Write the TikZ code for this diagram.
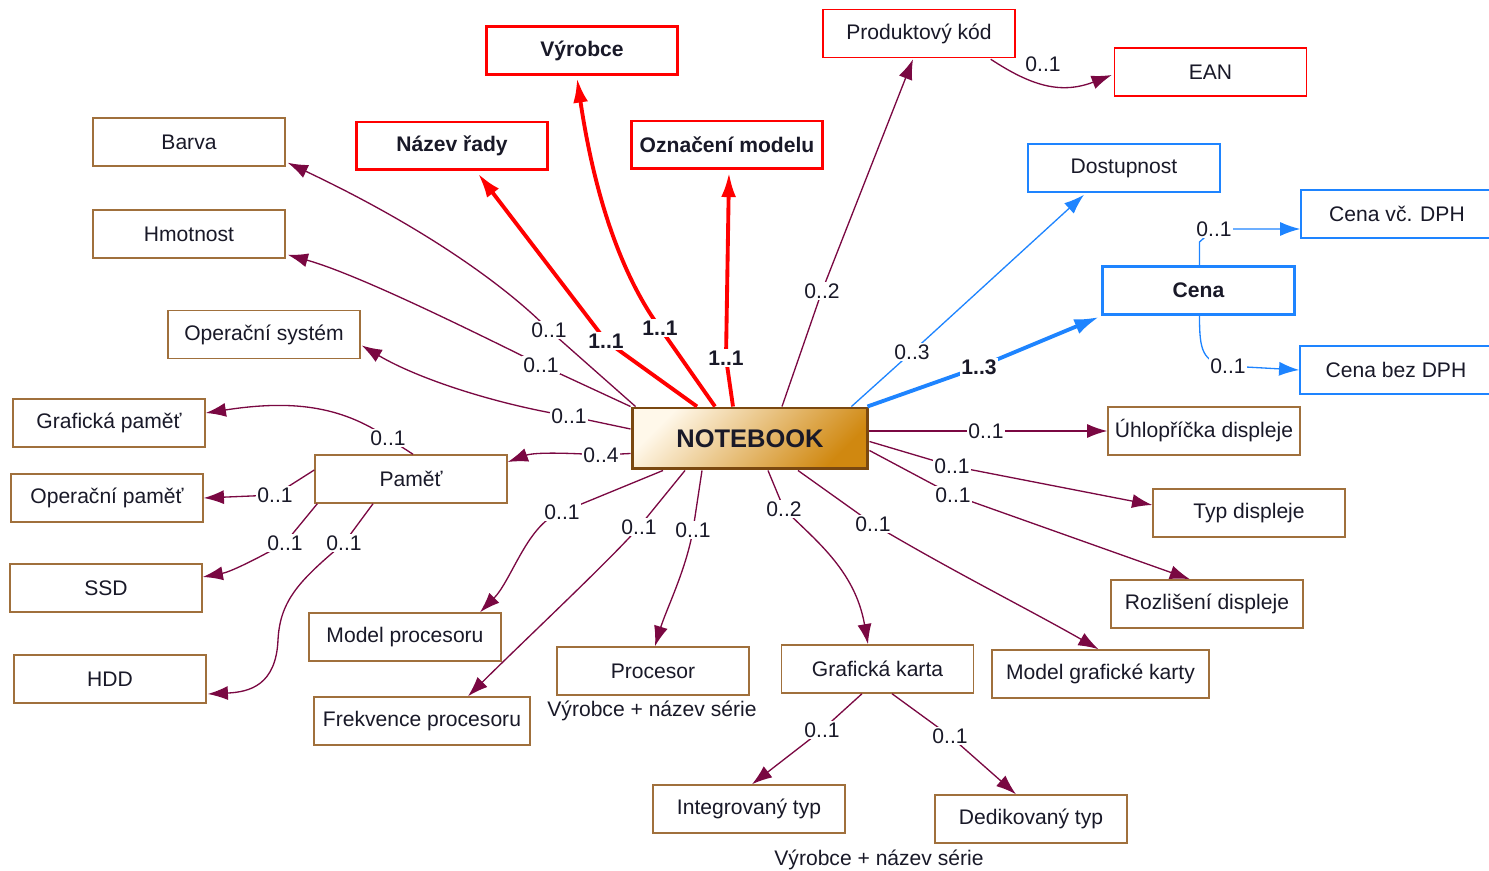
\documentclass[tikz,border=0pt]{standalone}
\usepackage{fontspec}
\setmainfont{Liberation Sans}
\usetikzlibrary{arrows.meta,calc}
\definecolor{brn}{RGB}{160,112,60}
\definecolor{mar}{RGB}{122,8,66}
\definecolor{blu}{RGB}{30,132,255}
\definecolor{rd}{RGB}{255,0,0}
\definecolor{txt}{RGB}{25,25,40}
\definecolor{nbl}{RGB}{255,248,234}
\definecolor{nbd}{RGB}{208,136,16}
\definecolor{nbb}{RGB}{122,72,16}
\tikzset{
  base/.style={fill=white, minimum width=3.84cm, minimum height=0.96cm, inner sep=0pt, text=txt, font=\fontsize{12}{14}\selectfont},
  bbox/.style={base, draw=brn, line width=0.85pt},
  rbox/.style={base, draw=rd, line width=1.7pt, font=\fontsize{12}{14}\selectfont\bfseries},
  rtbox/.style={base, draw=rd, line width=0.85pt},
  blbox/.style={base, draw=blu, line width=1.7pt, font=\fontsize{12}{14}\selectfont\bfseries},
  bltbox/.style={base, draw=blu, line width=0.85pt},
  nbbox/.style={draw=nbb, line width=1.7pt, minimum width=4.72cm, minimum height=1.22cm, inner sep=0pt,
    top color=nbl, bottom color=nbd, shading angle=45, text=txt, font=\fontsize{14.5}{17}\selectfont\bfseries},
  mult/.style={fill=white, inner sep=1pt, text=txt, font=\fontsize{12}{14}\selectfont},
  multb/.style={mult, font=\fontsize{12}{14}\selectfont\bfseries},
  txtn/.style={inner sep=0pt, text=txt, font=\fontsize{12}{14}\selectfont},
  edge/.style={draw=mar, line width=0.75pt, -{Latex[length=11.5pt,width=8pt]}},
  redge/.style={draw=rd, line width=2.2pt, -{Latex[length=14pt,width=8.5pt]}},
  bedge/.style={draw=blu, line width=0.75pt, -{Latex[length=11.5pt,width=8pt]}},
  bbedge/.style={draw=blu, line width=2.2pt, -{Latex[length=14pt,width=9pt]}}
}
\begin{document}
\begin{tikzpicture}[x=0.02cm, y=-0.02cm]
\useasboundingbox (0,0) rectangle (1489,871);
% boxes
\node[rbox] (vyr) at (582,50.5) {Výrobce};
\node[rbox] (naz) at (452,146) {Název řady};
\node[rbox] (ozn) at (727,145) {Označení modelu};
\node[rtbox] (pk) at (919,33.5) {Produktový kód};
\node[rtbox] (ean) at (1210.5,72) {EAN};
\node[bbox] (barva) at (189,142) {Barva};
\node[bbox] (hmot) at (189,234) {Hmotnost};
\node[bbox] (opsys) at (264,334.5) {Operační systém};
\node[bbox] (gpam) at (109,423) {Grafická paměť};
\node[bbox] (opam) at (107,498) {Operační paměť};
\node[bbox] (pam) at (411,479) {Paměť};
\node[bbox] (ssd) at (106,588) {SSD};
\node[bbox] (hdd) at (110,679) {HDD};
\node[bbox] (mproc) at (405,637) {Model procesoru};
\node[bbox, minimum width=4.32cm] (frek) at (422,721) {Frekvence procesoru};
\node[bbox] (proc) at (653,671) {Procesor};
\node[txtn] (procs) at (652,711) {Výrobce + název série};
\node[bbox] (gk) at (877.5,669) {Grafická karta};
\node[bbox] (integ) at (749,809) {Integrovaný typ};
\node[bbox] (dedik) at (1031,819) {Dedikovaný typ};
\node[txtn] (gks) at (879,860) {Výrobce + název série};
\node[bbox, minimum width=4.34cm] (mgk) at (1100.5,674) {Model grafické karty};
\node[bbox] (rozl) at (1207,604) {Rozlišení displeje};
\node[bbox] (typ) at (1249,513) {Typ displeje};
\node[bbox] (uhlo) at (1204,431) {Úhlopříčka displeje};
\node[bltbox] (cbez) at (1396,370) {Cena bez DPH};
\node[bltbox] (cvc) at (1397,214) {Cena vč. DPH};
\node[blbox] (cena) at (1198.5,290.5) {Cena};
\node[bltbox] (dost) at (1124,168) {Dostupnost};
\node[nbbox] (nb) at (750,438.5) {NOTEBOOK};
% label positions
\coordinate (lbarva) at (549,330);
\coordinate (lhmot) at (541,365);
\coordinate (lopsys) at (569,416);
\coordinate (lpam) at (601,455);
\coordinate (lnaz) at (606,341);
\coordinate (lvyr) at (660,328);
\coordinate (lozn) at (726,358);
\coordinate (lpk) at (822,291);
\coordinate (ldost) at (912,352);
\coordinate (lcena) at (979,367);
\coordinate (luhlo) at (986,431);
\coordinate (ltyp) at (952,466);
\coordinate (lrozl) at (953,495);
\coordinate (lmgk) at (873,524);
\coordinate (lgk) at (784,509);
\coordinate (lproc) at (693,530);
\coordinate (lfrek) at (639,527);
\coordinate (lmproc) at (562,512);
\coordinate (lgpam) at (388,438);
\coordinate (lopam) at (275,495);
\coordinate (lssd) at (285,543);
\coordinate (lhdd) at (344,543);
\coordinate (linteg) at (822,730);
\coordinate (ldedik) at (950,736);
\coordinate (lcvc) at (1214,229);
\coordinate (lcbez) at (1228,366);
% edges from NOTEBOOK
\draw[edge] ($(nb.north west)+(5,0)$) -- (lbarva) .. controls (510,290) and (430,230) .. ($(barva.south east)+(2,-4)$);
\draw[edge] (nb.north west) -- (lhmot) .. controls (480,335) and (360,275) .. ($(hmot.south east)+(2,-4)$);
\draw[edge] ($(nb.west)+(0,-9.5)$) -- (lopsys) .. controls (500,405) and (420,380) .. ($(opsys.east)+(1,11)$);
\draw[edge] ($(nb.west)+(0,15)$) -- (lpam) .. controls (570,453) and (535,452) .. ($(pam.east)+(0,-17)$);
\draw[redge] ($(nb.north)+(-53,0)$) -- (lnaz) -- ($(naz.south)+(26,2)$);
\draw[redge] ($(nb.north)+(-35,0)$) -- (lvyr) .. controls (632,290) and (598,220) .. ($(vyr.south)+(-5,2)$);
\draw[redge] ($(nb.north)+(-17,0)$) -- (lozn) -- ($(ozn.south)+(2,2)$);
\draw[edge] ($(nb.north)+(32,0)$) -- (lpk) -- ($(pk.south)+(-6,1)$);
\draw[bedge] ($(nb.north east)+(-18,0)$) -- (ldost) -- ($(dost.south)+(-40,2)$);
\draw[bbedge] ($(nb.north east)+(-2,0)$) -- (lcena) -- ($(cena.south west)+(-2,1)$);
\draw[edge] ($(nb.east)+(0,-7.5)$) -- (luhlo) -- (uhlo.west);
\draw[edge] ($(nb.east)+(0,3)$) -- (ltyp) -- ($(typ.west)+(0,-8)$);
\draw[edge] ($(nb.east)+(0,12)$) -- (lrozl) -- ($(rozl.north)+(-17,0)$);
\draw[edge] ($(nb.south)+(48,0)$) -- (lmgk) .. controls (950,570) and (1030,610) .. ($(mgk.north)+(-2,0)$);
\draw[edge] ($(nb.south)+(18,0)$) -- (lgk) .. controls (815,540) and (855,570) .. ($(gk.north)+(-9.5,0)$);
\draw[edge] ($(nb.south)+(-48,0)$) -- (lproc) .. controls (686,570) and (666,610) .. ($(proc.north)+(2,0)$);
\draw[edge] ($(nb.south)+(-65,0)$) -- (lfrek) .. controls (610,560) and (530,635) .. ($(frek.north)+(46,0)$);
\draw[edge] ($(nb.south)+(-87,0)$) -- (lmproc) .. controls (528,522) and (512,580) .. ($(mproc.north)+(75,0)$);
% Pamet
\draw[edge] ($(pam.north)+(2,0)$) -- (lgpam) .. controls (340,405) and (290,400) .. ($(gpam.east)+(0,-10)$);
\draw[edge] ($(pam.west)+(0,-9)$) -- (lopam) -- (opam.east);
\draw[edge] ($(pam.south west)+(3,0)$) -- (lssd) .. controls (255,560) and (230,572) .. ($(ssd.east)+(0,-11)$);
\draw[edge] ($(pam.south)+(-38,0)$) -- (lhdd) .. controls (300,580) and (280,600) .. (278,640) .. controls (276,685) and (250,692) .. ($(hdd.east)+(1,15)$);
% Graficka karta
\draw[edge] ($(gk.south)+(-15.5,0)$) -- (linteg) -- ($(integ.north)+(3,0)$);
\draw[edge] ($(gk.south)+(14.5,0)$) -- (ldedik) -- ($(dedik.north)+(-15,0)$);
% Cena
\draw[bedge] ($(cena.north)+(1,0)$) -- (1199.5,242) -- (lcvc) -- (lcvc -| cvc.west);
\draw[bedge] ($(cena.south)+(1,0)$) .. controls (1199.5,350) and (1202,362) .. (lcbez) -- (cbez.west);
% Produktovy kod -> EAN
\draw[edge] ($(pk.south east)+(-25,1)$) .. controls (1030,85) and (1060,95) .. ($(ean.west)+(-2,3)$);
% labels
\node[mult] (tbarva) at (lbarva) {0..1};
\node[mult] (thmot) at (lhmot) {0..1};
\node[mult] (topsys) at (lopsys) {0..1};
\node[mult] (tpam) at (lpam) {0..4};
\node[multb] (tnaz) at (lnaz) {1..1};
\node[multb] (tvyr) at (lvyr) {1..1};
\node[multb] (tozn) at (lozn) {1..1};
\node[mult] (tpk) at (lpk) {0..2};
\node[mult] (tdost) at (ldost) {0..3};
\node[multb] (tcena) at (lcena) {1..3};
\node[mult] (tuhlo) at (luhlo) {0..1};
\node[mult] (ttyp) at (ltyp) {0..1};
\node[mult] (trozl) at (lrozl) {0..1};
\node[mult] (tmgk) at (lmgk) {0..1};
\node[mult] (tgk) at (lgk) {0..2};
\node[mult] (tproc) at (lproc) {0..1};
\node[mult] (tfrek) at (lfrek) {0..1};
\node[mult] (tmproc) at (lmproc) {0..1};
\node[mult] (tgpam) at (lgpam) {0..1};
\node[mult] (topam) at (lopam) {0..1};
\node[mult] (tssd) at (lssd) {0..1};
\node[mult] (thdd) at (lhdd) {0..1};
\node[mult] (tinteg) at (linteg) {0..1};
\node[mult] (tdedik) at (ldedik) {0..1};
\node[mult] (tcvc) at (lcvc) {0..1};
\node[mult] (tcbez) at (lcbez) {0..1};
\node[mult, fill=none] (tean) at (1043,64) {0..1};
\end{tikzpicture}
\end{document}
